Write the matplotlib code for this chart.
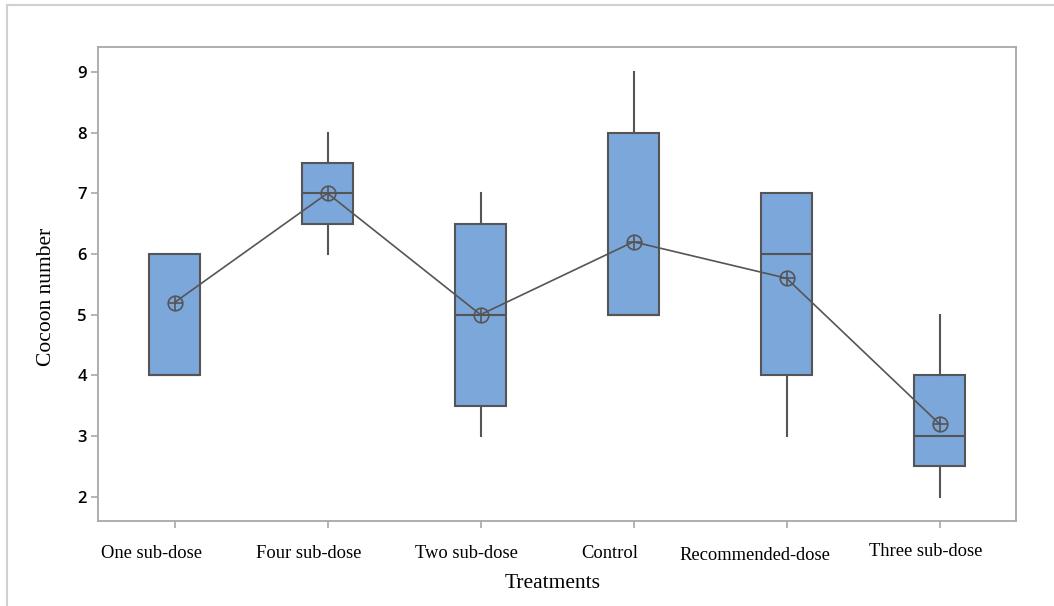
import matplotlib.pyplot as plt
from matplotlib.lines import Line2D
from matplotlib.transforms import ScaledTranslation

treatments = ['One sub-dose', 'Four sub-dose', 'Two sub-dose', 'Control',
              'Recommended-dose', 'Three sub-dose']
q1 = [4, 6.5, 3.5, 5, 4, 2.5]
medians = [4, 7, 5, 5, 6, 3]
q3 = [6, 7.5, 6.5, 8, 7, 4]
whislo = [4, 6, 3, 5, 3, 2]
whishi = [6, 8, 7, 9, 7, 5]
means = [5.2, 7.0, 5.0, 6.2, 5.6, 3.2]

# label nudges (px) to mimic the original's uneven label placement
label_dx = [-23, -19, -14, -24, -32, -14]
label_dy = [0, -1, 0, 0, -2, 1]

box_color = '#7BA7DA'
edge = '#555555'
spine = '#A8A8A8'

fig = plt.figure(figsize=(10.54, 6.06), dpi=100)
ax = fig.add_axes([98 / 1054, 1 - 521 / 606, (1016 - 98) / 1054, (521 - 47) / 606])

stats = []
for i, name in enumerate(treatments):
    stats.append({'label': name, 'q1': q1[i], 'med': medians[i], 'q3': q3[i],
                  'whislo': whislo[i], 'whishi': whishi[i], 'fliers': []})

pos = list(range(len(treatments)))
ax.bxp(stats, positions=pos, widths=0.33, patch_artist=True, showcaps=False,
       showfliers=False,
       boxprops=dict(facecolor=box_color, edgecolor=edge, linewidth=1.5),
       medianprops=dict(color=edge, linewidth=1.5),
       whiskerprops=dict(color=edge, linewidth=1.5))

ax.plot(pos, means, color=edge, linewidth=1.2, zorder=4)
ax.plot(pos, means, 'o', ms=10.5, mfc='none', mec=edge, mew=1.2, zorder=5)
ax.plot(pos, means, '+', ms=10, mec=edge, mew=1.2, zorder=5)

ax.set_xlim(-0.5, 5.5)
ax.set_ylim(1.6, 9.41)
ax.set_yticks(range(2, 10))
ax.set_xticks(pos)
ax.set_xticklabels([])
for i, name in enumerate(treatments):
    off = ScaledTranslation(label_dx[i] / 100, (label_dy[i] - 23.5) / 100,
                            fig.dpi_scale_trans)
    ax.text(pos[i], 0, name, transform=ax.get_xaxis_transform() + off,
            ha='center', va='top', fontfamily='Liberation Serif', fontsize=13.3)

for t in ax.get_yticklabels():
    t.set_fontfamily('Open Sans')
    t.set_fontweight('semibold')
    t.set_fontsize(12)
    t.set_color('black')

for s in ax.spines.values():
    s.set_color(spine)
    s.set_linewidth(1.3)
ax.tick_params(axis='both', direction='out', length=5, color=spine, width=1.2)
ax.tick_params(axis='y', pad=3)

ax.set_xlabel('Treatments', fontfamily='Liberation Serif', fontsize=15.5)
ax.xaxis.set_label_coords(0.4956, -0.1115)
ax.set_ylabel('Cocoon number', fontfamily='Liberation Serif', fontsize=15.5)
ax.yaxis.set_label_coords(-0.0457, 0.4726)

# outer frame lines
fig.add_artist(Line2D([7 / 1054, 1], [1 - 5 / 606, 1 - 5 / 606],
                      transform=fig.transFigure, color='#D0D0D0', lw=1.5))
fig.add_artist(Line2D([7 / 1054, 7 / 1054], [0, 1 - 5 / 606],
                      transform=fig.transFigure, color='#D0D0D0', lw=1.5))

fig.savefig('out.png', dpi=100)
